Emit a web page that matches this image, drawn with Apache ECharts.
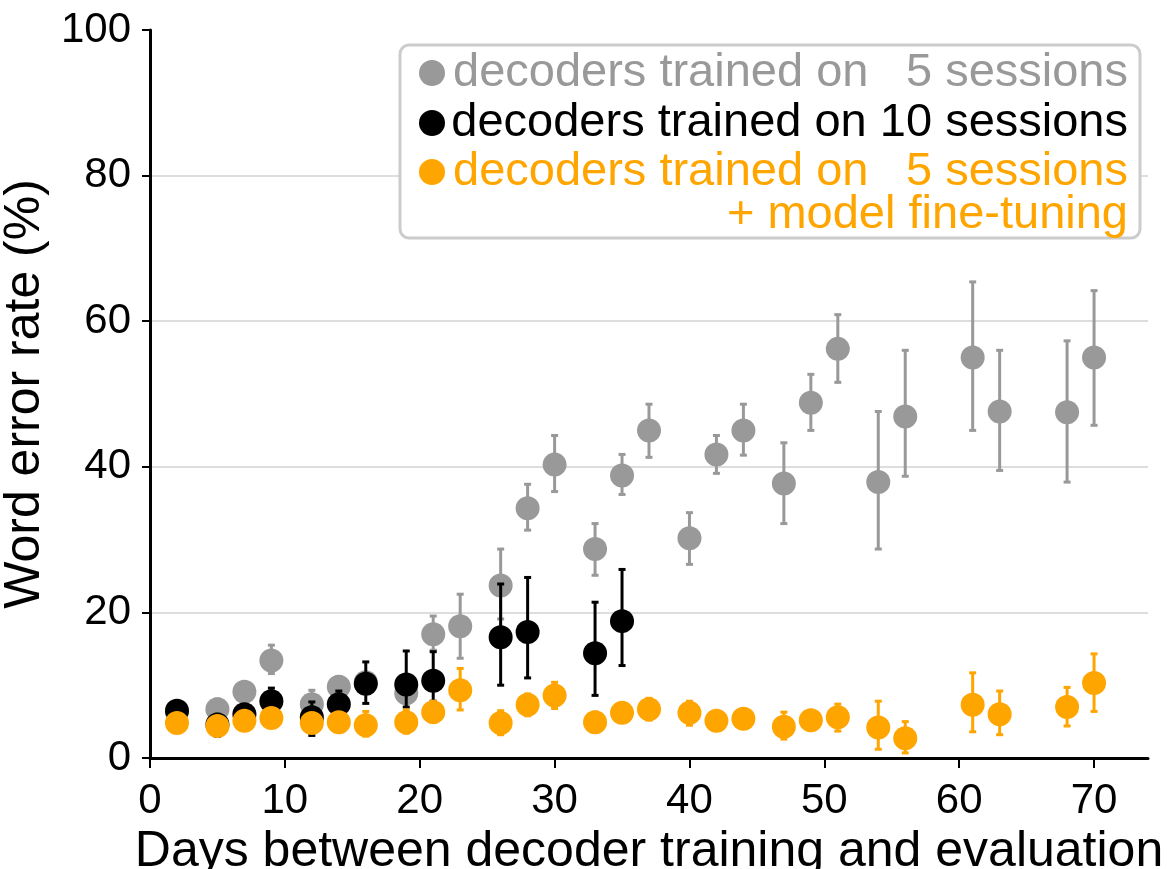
<!DOCTYPE html>
<html>
<head>
<meta charset="utf-8">
<script src="https://cdn.jsdelivr.net/npm/echarts@6/dist/echarts.min.js"></script>
<style>
html,body{margin:0;padding:0;background:#fff;}
#chart{width:1173px;height:869px;}
</style>
</head>
<body>
<div id="chart"></div>
<script>
// ---- data ----
const xTicks = [0, 10, 20, 30, 40, 50, 60, 70];
const yTicks = [0, 20, 40, 60, 80, 100];

const grayDays = [2,5,7,9,12,14,16,19,21,23,26,28,30,33,35,37,40,42,44,47,49,51,54,56,61,63,68,70];
const grayVals = [6.4,6.7,9.1,13.4,7.4,9.8,10.4,8.9,17.0,18.1,23.7,34.3,40.3,28.7,38.8,45.0,30.2,41.7,45.0,37.7,48.8,56.2,37.9,46.9,55.0,47.6,47.5,55.0];
const grayLo   = [5.6,5.5,8.2,11.6,5.9,8.6,9.3,7.7,14.8,13.7,19.1,31.3,36.6,25.1,36.2,41.3,26.6,39.1,41.6,32.2,45.0,51.6,28.7,38.7,45.0,39.5,37.9,45.7];
const grayHi   = [7.2,8.1,10.0,15.5,9.3,11.2,11.6,10.1,19.5,22.5,28.7,37.6,44.3,32.2,41.7,48.6,33.7,44.3,48.6,43.3,52.7,60.9,47.6,56.0,65.4,56.0,57.3,64.2];

const blackDays = [2,5,7,9,12,14,16,19,21,26,28,33,35];
const blackVals = [6.5,4.6,6.0,7.8,5.6,7.4,10.2,10.1,10.6,16.6,17.3,14.4,18.8];
const blackLo   = [5.7,3.0,5.2,6.2,3.1,5.8,7.5,7.0,7.8,10.0,11.0,8.6,12.7];
const blackHi   = [7.3,6.0,6.8,9.6,7.7,9.2,13.2,14.7,14.6,23.9,24.8,21.4,25.9];

const orangeDays = [2,5,7,9,12,14,16,19,21,23,26,28,30,33,35,37,40,42,44,47,49,51,54,56,61,63,68,70];
const orangeVals = [4.8,4.4,5.1,5.5,4.8,4.9,4.5,4.9,6.3,9.3,4.8,7.3,8.6,4.9,6.2,6.7,6.2,5.1,5.4,4.3,5.2,5.6,4.2,2.7,7.3,6.0,7.0,10.3];
const orangeLo   = [4.2,3.8,4.5,4.9,4.2,4.3,3.0,3.4,4.9,6.6,3.2,5.8,6.8,3.5,5.6,5.2,4.5,4.6,4.8,2.6,4.0,3.7,1.2,0.7,3.6,3.2,4.4,6.4];
const orangeHi   = [5.4,5.0,5.7,6.1,5.4,5.5,6.4,6.6,7.8,12.3,6.5,8.8,10.4,6.3,6.8,8.2,7.8,5.7,6.0,6.3,6.5,7.4,7.8,5.0,11.7,9.2,9.7,14.3];

const legendLeft  = ['decoders trained on', 'decoders trained on 10 sessions', 'decoders trained on'];
const legendRight = ['5 sessions', '', '5 sessions'];
const legendExtra = '+ model fine-tuning';

const GRAY = '#999999', BLACK = '#000000', ORANGE = '#FFA500';
const FONT = '"Liberation Sans", Arial, Helvetica, sans-serif';

function build(days, vals, lo, hi) {
  return days.map((d, i) => [d, vals[i], lo[i], hi[i]]);
}

function makeRender(color) {
  return function (params, api) {
    const x = api.value(0), v = api.value(1), lo = api.value(2), hi = api.value(3);
    const p = api.coord([x, v]);
    const pl = api.coord([x, lo]);
    const ph = api.coord([x, hi]);
    const cap = 3.5;
    const st = { stroke: color, lineWidth: 3 };
    return {
      type: 'group',
      children: [
        { type: 'line', shape: { x1: pl[0], y1: pl[1], x2: ph[0], y2: ph[1] }, style: st },
        { type: 'line', shape: { x1: ph[0] - cap, y1: ph[1], x2: ph[0] + cap, y2: ph[1] }, style: st },
        { type: 'line', shape: { x1: pl[0] - cap, y1: pl[1], x2: pl[0] + cap, y2: pl[1] }, style: st },
        { type: 'circle', shape: { cx: p[0], cy: p[1], r: 12 }, style: { fill: color } }
      ]
    };
  };
}

function series(name, color, data) {
  return {
    name: name, type: 'custom', renderItem: makeRender(color),
    encode: { x: 0, y: 1 }, data: data, clip: false
  };
}

const chart = echarts.init(document.getElementById('chart'), null, { renderer: 'canvas' });

// legend graphic
const LX = 400, LY = 45, LW = 740, LH = 193, TR = 1128, TL = 453;
const rowY = [73, 123, 172, 215];
const rowColors = [GRAY, BLACK, ORANGE];
const LFONT = '47px ' + FONT;
const legendEls = [
  { type: 'rect', shape: { x: LX, y: LY, width: LW, height: LH, r: 9 },
    style: { fill: '#fff', stroke: '#cccccc', lineWidth: 3 }, z: 100 }
];
for (let i = 0; i < 3; i++) {
  legendEls.push({ type: 'circle', shape: { cx: 432, cy: rowY[i], r: 13 }, style: { fill: rowColors[i] }, z: 101 });
  if (legendRight[i]) {
    legendEls.push({ type: 'text', x: TL, y: rowY[i], style: { text: legendLeft[i], fill: rowColors[i], font: LFONT, textAlign: 'left', textVerticalAlign: 'middle' }, z: 101 });
    legendEls.push({ type: 'text', x: TR, y: rowY[i], style: { text: legendRight[i], fill: rowColors[i], font: LFONT, textAlign: 'right', textVerticalAlign: 'middle' }, z: 101 });
  } else {
    legendEls.push({ type: 'text', x: TR, y: rowY[i], style: { text: legendLeft[i], fill: rowColors[i], font: LFONT, textAlign: 'right', textVerticalAlign: 'middle' }, z: 101 });
  }
}
legendEls.push({ type: 'text', x: TR, y: rowY[3], style: { text: legendExtra, fill: ORANGE, font: LFONT, textAlign: 'right', textVerticalAlign: 'middle' }, z: 101 });

chart.setOption({
  animation: false,
  backgroundColor: '#ffffff',
  grid: { left: 150, right: 25, top: 30, bottom: 111, containLabel: false, outerBoundsMode: 'none' },
  xAxis: {
    type: 'value', min: 0, max: 74,
    name: 'Days between decoder training and evaluation',
    nameLocation: 'middle', nameGap: 64,
    nameTextStyle: { color: '#000', fontSize: 50, fontFamily: FONT },
    axisLine: { show: true, onZero: false, lineStyle: { color: '#000', width: 3 } },
    axisTick: { show: true, length: 10, lineStyle: { color: '#000', width: 2 }, customValues: xTicks },
    axisLabel: { color: '#000', fontSize: 42, fontFamily: FONT, margin: 22, customValues: xTicks },
    splitLine: { show: false }
  },
  yAxis: {
    type: 'value', min: 0, max: 100, interval: 20,
    name: 'Word error rate (%)',
    nameLocation: 'middle', nameGap: 94, nameRotate: 90,
    nameTextStyle: { color: '#000', fontSize: 50, fontFamily: FONT },
    axisLine: { show: true, onZero: false, lineStyle: { color: '#000', width: 3 } },
    axisTick: { show: true, length: 8, lineStyle: { color: '#000', width: 2 }, customValues: yTicks },
    axisLabel: { color: '#000', fontSize: 42, fontFamily: FONT, margin: 19, customValues: yTicks },
    splitLine: { show: true, showMinLine: false, showMaxLine: false, lineStyle: { color: '#dddddd', width: 2 } }
  },
  series: [
    series('decoders trained on 5 sessions', GRAY, build(grayDays, grayVals, grayLo, grayHi)),
    series('decoders trained on 10 sessions', BLACK, build(blackDays, blackVals, blackLo, blackHi)),
    series('decoders trained on 5 sessions + model fine-tuning', ORANGE, build(orangeDays, orangeVals, orangeLo, orangeHi))
  ],
  graphic: legendEls
});
</script>
</body>
</html>
